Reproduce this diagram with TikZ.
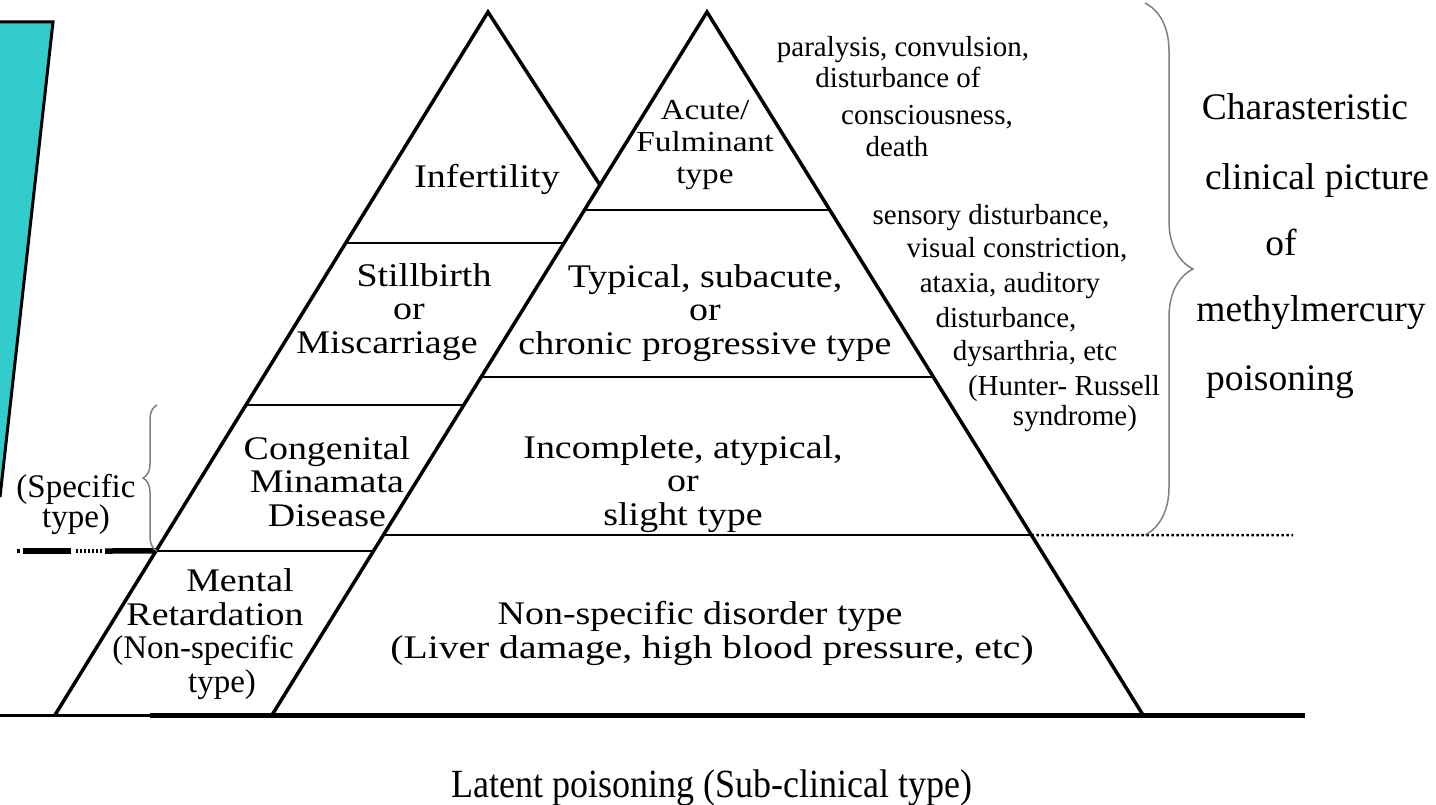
\documentclass[tikz,border=0pt]{standalone}
\usepackage{fontspec}
\setmainfont{Liberation Serif}
\newfontfamily\widefont[FakeStretch=1.15]{Liberation Serif}
\newfontfamily\wideliver[FakeStretch=1.2]{Liberation Serif}
\newfontfamily\plainfont{Liberation Serif}
\newfontfamily\narrowfont[FakeStretch=0.9]{Liberation Serif}
\usetikzlibrary{calc,decorations.pathreplacing}
\definecolor{tealfill}{RGB}{51,204,204}
\begin{document}
\begin{tikzpicture}[x=1pt,y=-1pt,
  big/.style={font=\widefont\fontsize{33}{33.5}\selectfont, align=center, inner sep=0pt, anchor=base},
  small/.style={font=\fontsize{29}{33}\selectfont, inner sep=0pt, anchor=base},
  side/.style={font=\fontsize{37.5}{40}\selectfont, inner sep=0pt, anchor=base},
  edge/.style={line width=3.5pt, line join=miter},
  sep/.style={line width=2.5pt},
  brc/.style={draw=gray, line width=1.5pt, decorate, decoration={brace, amplitude=#1}}
]
\useasboundingbox (0,0) rectangle (1436,805);

% cyan shape
\fill[tealfill] (0,22) -- (53,22) -- (0,497) -- cycle;
\draw[line width=3pt] (0,22) -- (53,22) -- (0,497);

% vertices
\coordinate (A) at (707,12);
\coordinate (BL) at (272,715);
\coordinate (BR) at (1143,715);
\coordinate (LA) at (488,12);
\coordinate (LL) at (55,715);
\coordinate (J) at ($(A)!0.2461!(BL)$);

% base line
\draw[line width=3pt] (0,715) -- (150,715);
\draw[line width=5pt] (150,715) -- (1305,715);

% triangles
\draw[edge] (BL) -- (A) -- (BR);
\draw[edge] (LL) -- (LA) -- (J);

% separators of the big pyramid
\draw[sep] ($(A)!0.2817!(BL)$) -- ($(A)!0.2817!(BR)$);
\draw[sep] ($(A)!0.5192!(BL)$) -- ($(A)!0.5192!(BR)$);
\draw[sep] ($(A)!0.7440!(BL)$) -- ($(A)!0.7440!(BR)$) coordinate (D0);
\coordinate (D1) at (1293,535);
\draw[line width=2.5pt, dash pattern=on 2.5pt off 2.5pt] (D0) -- (D1);

% separators of the left pyramid
\draw[sep] ($(LA)!0.3286!(LL)$) -- ($(A)!0.3286!(BL)$);
\draw[sep] ($(LA)!0.5590!(LL)$) -- ($(A)!0.5590!(BL)$);
\draw[sep] ($(LA)!0.7667!(LL)$) coordinate (M0) -- ($(A)!0.7667!(BL)$);

% thick left extension
\coordinate (E1) at (105,551);
\coordinate (E2) at (102,551);
\coordinate (E3) at (74,551);
\coordinate (E4) at (71,551);
\coordinate (E5) at (23,551);
\coordinate (E6) at (20,551);
\coordinate (E7) at (17,551);
\draw[line width=5.5pt] (M0) -- (E1);
\draw[line width=4.5pt, dash pattern=on 2pt off 2pt] (E2) -- (E3);
\draw[line width=5.5pt] (E4) -- (E5);
\draw[line width=4.5pt] (E6) -- (E7);

% braces
\coordinate (b1) at (157,551);
\coordinate (b2) at (157,405);
\draw[brc=14pt] (b1) -- (b2);
\coordinate (b3) at (1145,3);
\coordinate (b4) at (1145,535);
\draw[brc=48pt] (b3) -- (b4);

% texts in the pyramids (anchor base = baseline of last line)
\node[big] (inf) at (487,188) {Infertility};
\node[big] (still) at (424,353) {Stillbirth\\\hspace*{-30pt}or\\\hspace*{-74pt}Miscarriage};
\node[big] (cong) at (327,526) {Congenital\\Minamata\\Disease};
\node[big] (ment) at (215,692) {\hspace*{50pt}Mental\\Retardation\\{\plainfont\hspace*{-24pt}(Non-specific}\\{\plainfont\hspace*{14pt}type)}};
\node[big, font=\widefont\fontsize{29}{32}\selectfont] (acute) at (705,184) {Acute/\\Fulminant\\type};
\node[big] (typ) at (705,354) {Typical, subacute,\\or\\chronic progressive type};
\node[big] (inc) at (683,525) {Incomplete, atypical,\\or\\slight type};
\node[big] (nonsp) at (712,658) {\hspace*{-24pt}Non-specific disorder type\\{\wideliver (Liver damage, high blood pressure, etc)}};

% left label
\node[big, font=\plainfont\fontsize{33}{30}\selectfont] (spec) at (76,527) {(Specific\\type)};

% symptoms
\node[small] (s1) at (903,57) {paralysis, convulsion,};
\node[small] (s2) at (898,88) {disturbance of};
\node[small] (s3) at (927,125) {consciousness,};
\node[small] (s4) at (897,157) {death};
\node[small] (h1) at (991,225) {sensory disturbance,};
\node[small] (h2) at (1017,258) {visual constriction,};
\node[small] (h3) at (1010,293) {ataxia, auditory};
\node[small] (h4) at (1006,327) {disturbance,};
\node[small] (h5) at (1035,360) {dysarthria, etc};
\node[small] (h6) at (1064,395) {(Hunter- Russell};
\node[small] (h7) at (1075,425) {syndrome)};

% right caption
\node[side] (c1) at (1305,120) {Charasteristic};
\node[side] (c2) at (1317,190) {clinical picture};
\node[side] (c3) at (1281,256) {of};
\node[side] (c4) at (1311,322) {methylmercury};
\node[side] (c5) at (1280,390) {poisoning};

% bottom caption
\node[font=\narrowfont\fontsize{40}{42}\selectfont, inner sep=0pt, anchor=base] (latent) at (712,797) {Latent poisoning (Sub-clinical type)};
\end{tikzpicture}
\end{document}
